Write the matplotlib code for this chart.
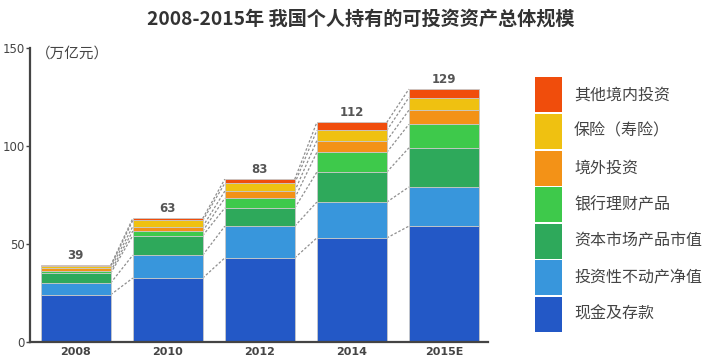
import matplotlib
matplotlib.use('Agg')
import matplotlib.pyplot as plt
from matplotlib.patches import Rectangle
import numpy as np

plt.rcParams['font.family'] = ['Noto Sans CJK SC', 'DejaVu Sans']

## data (万亿元), bottom -> top
years = ['2008', '2010', '2012', '2014', '2015E']
cash = [24.0, 32.5, 42.8, 53.0, 59.0]
real_estate = [6.0, 11.7, 16.2, 18.3, 20.0]
capital_mkt = [5.0, 10.0, 9.3, 15.3, 20.0]
bank_wm = [1.0, 2.3, 5.0, 10.1, 12.0]
overseas = [1.5, 2.3, 3.6, 6.0, 7.2]
insurance = [1.0, 3.1, 4.0, 5.2, 6.5]
other = [0.5, 1.1, 2.1, 4.1, 4.3]
totals = [39, 63, 83, 112, 129]

series_names = ['现金及存款', '投资性不动产净值', '资本市场产品市值', '银行理财产品',
                '境外投资', '保险（寿险）', '其他境内投资']
colors = ['#2358c6', '#3896dc', '#2ea95b', '#3ec94b', '#f39217', '#efc111', '#f04d0c']

series = [cash, real_estate, capital_mkt, bank_wm, overseas, insurance, other]

fig = plt.figure(figsize=(7.19, 3.61), dpi=100)
ax = fig.add_axes([30 / 719, 1 - 341.7 / 361, (488 - 30) / 719, (341.7 - 48) / 361])

x = np.arange(len(years))
width = 0.76
bottom = np.zeros(len(years))
tops = []
for vals, col in zip(series, colors):
    ax.bar(x, vals, width, bottom=bottom, color=col, edgecolor='#c8c8c8', linewidth=0.6, zorder=2)
    bottom = bottom + np.array(vals)
    tops.append(bottom.copy())

## dashed connector lines between neighbouring bars
for lvl in tops:
    for i in range(len(years) - 1):
        ax.plot([x[i] + width / 2, x[i + 1] - width / 2], [lvl[i], lvl[i + 1]],
                color='#8f8f8f', linestyle=(0, (2, 1.5)), linewidth=0.9, zorder=1)

for xi, t, tot in zip(x, tops[-1], totals):
    ax.text(xi, t + 1.8, str(tot), ha='center', va='bottom', fontsize=8.5,
            fontweight='bold', color='#555555', family='DejaVu Sans')

ax.set_xlim(-0.497, 4.48)
ax.set_ylim(0, 150)
ax.set_yticks([0, 50, 100, 150])
ax.set_xticks(x)
ax.set_xticklabels(years, fontsize=8, fontweight='bold', color='#444444', family='DejaVu Sans')
ax.tick_params(axis='x', length=0, pad=4)
ax.tick_params(axis='y', length=3, width=1, labelsize=8.5, colors='#444444', pad=1)
for lab in ax.get_yticklabels():
    lab.set_family('DejaVu Sans')
for s in ['top', 'right']:
    ax.spines[s].set_visible(False)
for s in ['left', 'bottom']:
    ax.spines[s].set_color('#444444')
    ax.spines[s].set_linewidth(1.6)

ax.text(0.012, 147, '（万亿元）', ha='left', va='center', fontsize=10.5, color='#444444',
        transform=ax.get_yaxis_transform())

## legend drawn as a column of swatches
lax = fig.add_axes([0, 0, 1, 1])
lax.set_xlim(0, 719)
lax.set_ylim(361, 0)
lax.axis('off')
sw_top = 76.5
sw_h = 36.6
for k, (name, col) in enumerate(zip(series_names[::-1], colors[::-1])):
    y0 = sw_top + k * sw_h
    lax.add_patch(Rectangle((535, y0 + 0.8), 27, sw_h - 1.6, facecolor=col, edgecolor='none'))
    lax.text(574, y0 + sw_h / 2, name, ha='left', va='center', fontsize=11.5, color='#444444')

fig.text(0.502, 0.948, '2008-2015年 我国个人持有的可投资资产总体规模', ha='center', va='center',
         fontsize=13.8, fontweight='bold', color='#333333')

fig.savefig('out.png', dpi=100)
